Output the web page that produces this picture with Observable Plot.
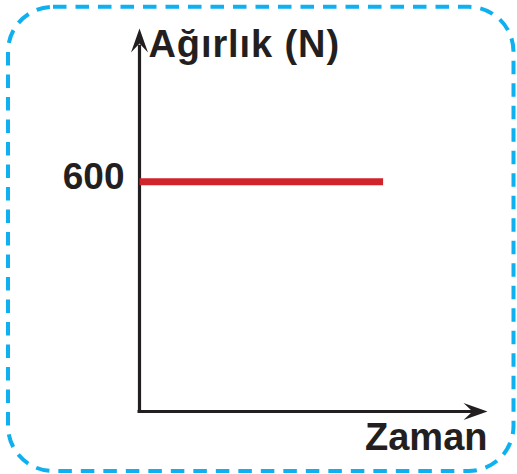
<!DOCTYPE html>
<html>
<head>
<meta charset="utf-8">
<script src="https://cdn.jsdelivr.net/npm/d3@7"></script>
<script src="https://cdn.jsdelivr.net/npm/@observablehq/plot@0.6"></script>
<style>
  html, body { margin: 0; padding: 0; background: #fff; }
</style>
</head>
<body>
<div id="chart"></div>
<script>
// Data
const times = [0, 7];
const weights = [600, 600];
const yTicks = [600];
const yLabel = "Ağırlık (N)";
const xLabel = "Zaman";

const xMax = 10;
const yMax = 1000;

const series = times.map((t, i) => ({t, w: weights[i]}));

const ink = "#231f20";

// Notched filled arrowhead pointing right, tip at origin
const arrowSymbol = {
  draw(ctx) {
    ctx.moveTo(0, 0);
    ctx.lineTo(-24, -8.5);
    ctx.lineTo(-15, 0);
    ctx.lineTo(-24, 8.5);
    ctx.closePath();
  }
};

const chart = Plot.plot({
  width: 517,
  height: 474,
  margin: 0,
  style: {fontFamily: "'Liberation Sans', Arial, sans-serif", background: "#fff", overflow: "visible"},
  x: {domain: [0, xMax], range: [139, 487], axis: null},
  y: {domain: [0, yMax], range: [411, 28], axis: null},
  marks: [
    Plot.frame({insetLeft: 7.5, insetTop: 6.3, insetRight: 4, insetBottom: 3.5, rx: 45, stroke: "#0eb0ef", strokeWidth: 4, strokeDasharray: "13.5 9"}),
    // axes
    Plot.ruleX([0], {y1: 0, y2: yMax * 0.96, stroke: ink, strokeWidth: 3.2, insetBottom: -1.5}),
    Plot.ruleY([0], {x1: 0, x2: xMax * 0.96, stroke: ink, strokeWidth: 3.2, insetLeft: -1.5}),
    Plot.dot([{x: xMax, y: 0}], {x: "x", y: "y", symbol: arrowSymbol, fill: ink, stroke: null}),
    Plot.dot([{x: 0, y: yMax}], {x: "x", y: "y", symbol: arrowSymbol, fill: ink, stroke: null, rotate: -90}),
    // data line
    Plot.line(series, {x: "t", y: "w", stroke: "#d1232a", strokeWidth: 7, strokeLinecap: "butt"}),
    // tick label
    Plot.text(yTicks, {x: 0, y: d => d, text: d => String(d), textAnchor: "end", dx: -15, dy: -5, fontSize: 37, fontWeight: "bold", fill: ink}),
    // axis labels
    Plot.text([yLabel], {x: 0, y: yMax, text: d => d, textAnchor: "start", lineAnchor: "top", dx: 9, dy: 2, fontSize: 38, fontWeight: "bold", fill: ink, title: null}),
    Plot.text([xLabel], {x: xMax, y: 0, text: d => d, textAnchor: "end", lineAnchor: "top", dy: 12, fontSize: 38, fontWeight: "bold", fill: ink})
  ]
});
// slightly wider tracking on the y-axis title, as in the reference
d3.select(chart).selectAll("text").filter(function() { return this.textContent === yLabel; })
  .style("letter-spacing", "0.9px");
document.getElementById("chart").appendChild(chart);
</script>
</body>
</html>
